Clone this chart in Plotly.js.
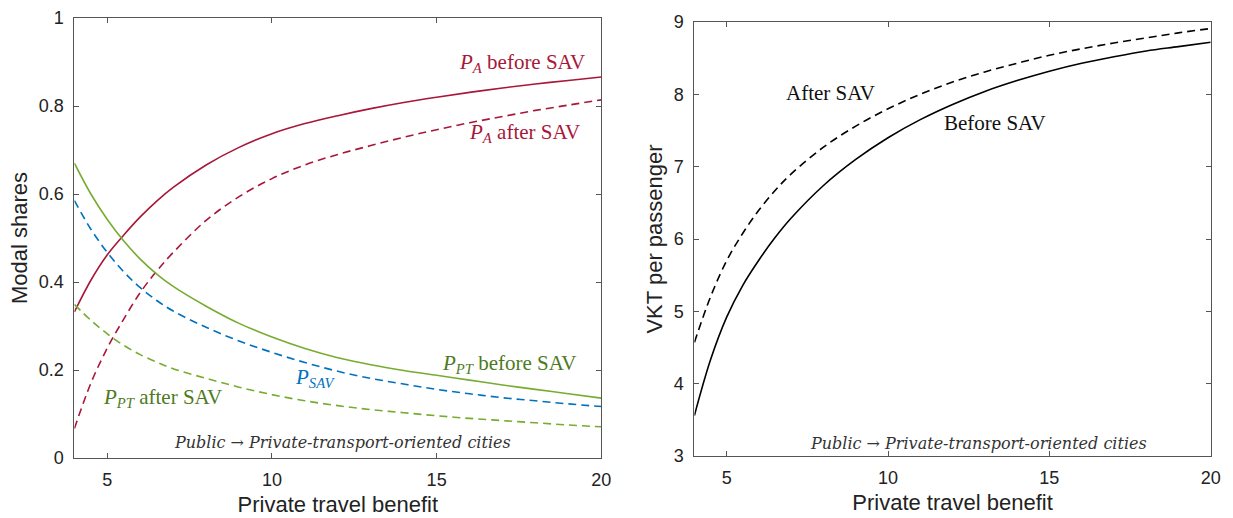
<!DOCTYPE html>
<html>
<head>
<meta charset="utf-8">
<script src="https://cdn.plot.ly/plotly-3.0.1.min.js"></script>
<style>html,body{margin:0;padding:0;background:#fff;}#chart{width:1233px;height:518px;}</style>
</head>
<body>
<div id="chart"></div>
<script>
// Private travel benefit (x)
const benefit = [4,4.5,5,5.5,6,6.5,7,8,9,10,11,12,13,14,15,16,17,18,19,20];
// Left panel: modal shares
const paBefore  = [0.332,0.404,0.462,0.507,0.548,0.584,0.615,0.666,0.706,0.737,0.760,0.778,0.794,0.808,0.820,0.831,0.841,0.850,0.858,0.866];
const paAfter   = [0.067,0.170,0.250,0.316,0.376,0.425,0.467,0.540,0.594,0.635,0.666,0.690,0.710,0.729,0.746,0.762,0.776,0.790,0.802,0.814];
const pptBefore = [0.670,0.600,0.542,0.493,0.452,0.418,0.390,0.345,0.306,0.275,0.249,0.228,0.212,0.199,0.188,0.177,0.166,0.156,0.146,0.136];
const pSav      = [0.585,0.520,0.467,0.423,0.387,0.358,0.334,0.297,0.266,0.240,0.217,0.197,0.181,0.168,0.156,0.146,0.137,0.130,0.123,0.117];
const pptAfter  = [0.349,0.313,0.282,0.256,0.235,0.218,0.203,0.181,0.161,0.144,0.130,0.119,0.110,0.103,0.096,0.090,0.085,0.080,0.075,0.071];
// Right panel: VKT per passenger
const vktBefore = [3.56,4.33,4.92,5.36,5.71,6.02,6.29,6.74,7.10,7.40,7.65,7.86,8.04,8.19,8.32,8.43,8.52,8.60,8.66,8.72];
const vktAfter  = [4.57,5.20,5.70,6.08,6.40,6.67,6.90,7.27,7.56,7.80,8.00,8.17,8.31,8.43,8.54,8.63,8.71,8.78,8.85,8.91];

const RED = '#A8173A', GREEN = '#77AC30', BLUE = '#0072BD', DGREEN = '#4E7A22';
const DASH = '8px,5px';
function tr(y, color, dash, xa, ya){
  return {x: benefit, y: y, mode:'lines', xaxis: xa, yaxis: ya,
    line:{color: color, width: 1.6, dash: dash, shape:'spline', smoothing:1}, hoverinfo:'skip', showlegend:false};
}
const data = [
  tr(paBefore, RED, 'solid', 'x', 'y'),
  tr(paAfter, RED, DASH, 'x', 'y'),
  tr(pptBefore, GREEN, 'solid', 'x', 'y'),
  tr(pSav, BLUE, DASH, 'x', 'y'),
  tr(pptAfter, GREEN, DASH, 'x', 'y'),
  tr(vktBefore, '#000', 'solid', 'x2', 'y2'),
  tr(vktAfter, '#000', DASH, 'x2', 'y2')
];

const axBase = {showline:true, linecolor:'#555', linewidth:1, mirror:'ticks', ticks:'inside', ticklen:5,
  tickcolor:'#555', showgrid:false, zeroline:false, fixedrange:true,
  tickfont:{family:'Liberation Sans, Arial, sans-serif', size:18, color:'#222'}};
const titleFont = {family:'Liberation Sans, Arial, sans-serif', size:22, color:'#222'};
const serif = 'Liberation Serif, Times New Roman, serif';

function ann(text, px, py, xanchor, color, size, family){
  return {text: text, xref:'paper', yref:'paper', x: px/1233, y: 1-py/518, xanchor: xanchor, yanchor:'middle',
    showarrow:false, font:{family: family || serif, size: size, color: color}};
}
const noteFont = 'DejaVu Serif, serif';

const layout = {
  width:1233, height:518, margin:{l:0,r:0,t:0,b:0}, paper_bgcolor:'#fff', plot_bgcolor:'#fff',
  xaxis: Object.assign({}, axBase, {domain:[74.4/1233, 601.3/1233], range:[4,20], tickvals:[5,10,15,20],
    ticklabelstandoff:5, title:{text:'Private travel benefit', font:titleFont, standoff:8}, anchor:'y'}),
  yaxis: Object.assign({}, axBase, {domain:[60/518, 500/518], range:[0,1], tickvals:[0,0.2,0.4,0.6,0.8,1],
    ticktext:['0','0.2','0.4','0.6','0.8','1'], ticklabelstandoff:6,
    title:{text:'Modal shares', font:titleFont, standoff:5}, anchor:'x'}),
  xaxis2: Object.assign({}, axBase, {domain:[694.4/1233, 1210.7/1233], range:[4,20], tickvals:[5,10,15,20],
    ticklabelstandoff:5, title:{text:'Private travel benefit', font:titleFont, standoff:8}, anchor:'y2'}),
  yaxis2: Object.assign({}, axBase, {domain:[62/518, 496/518], range:[3,9], tickvals:[3,4,5,6,7,8,9],
    ticklabelstandoff:6, title:{text:'VKT per passenger', font:titleFont, standoff:5}, anchor:'x2'}),
  annotations: [
    ann('<i>P</i><sub><i>A</i></sub> before SAV', 587, 63, 'right', RED, 21),
    ann('<i>P</i><sub><i>A</i></sub> after SAV', 582, 133, 'right', RED, 21),
    ann('<i>P</i><sub><i>PT</i></sub> before SAV', 578, 364, 'right', DGREEN, 21),
    ann('<i>P</i><sub><i>SAV</i></sub>', 293, 378, 'left', BLUE, 21),
    ann('<i>P</i><sub><i>PT</i></sub> after SAV', 101, 398, 'left', DGREEN, 21),
    ann('<i>Public → Private-transport-oriented cities</i>', 172, 442, 'left', '#333', 16, noteFont),
    ann('After SAV', 784, 93, 'left', '#111', 21),
    ann('Before SAV', 942, 123, 'left', '#111', 21),
    ann('<i>Public → Private-transport-oriented cities</i>', 808, 443, 'left', '#333', 16, noteFont)
  ]
};
Plotly.newPlot('chart', data, layout, {displayModeBar:false, staticPlot:true});
</script>
</body>
</html>
